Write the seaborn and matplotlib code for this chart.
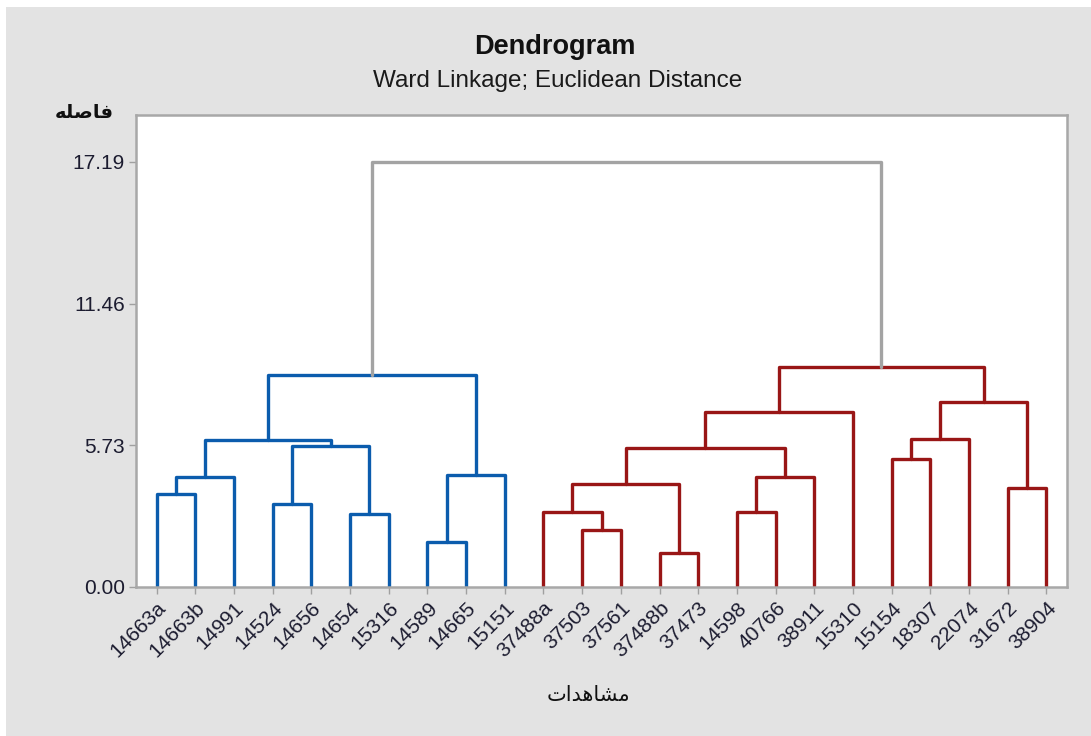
import matplotlib.pyplot as plt
import numpy as np
import pandas as pd
import seaborn as sns
from matplotlib.patches import Rectangle

# leaf labels, left to right
leaf_labels = [
    "14663a", "14663b", "14991", "14524", "14656", "14654", "15316", "14589",
    "14665", "15151", "37488a", "37503", "37561", "37488b", "37473", "14598",
    "40766", "38911", "15310", "15154", "18307", "22074", "31672", "38904",
]

# merges (scipy style: ids < 24 are leaves, then new clusters 24, 25, ...)
merge_left = [0, 24, 3, 5, 26, 25, 7, 30, 29, 11, 10, 13, 34, 15, 37, 36, 39, 19, 41, 22, 42, 40, 32]
merge_right = [1, 2, 4, 6, 27, 28, 8, 9, 31, 12, 33, 14, 35, 16, 17, 38, 18, 20, 21, 23, 43, 44, 45]
merge_height = [3.75, 4.46, 3.35, 2.95, 5.72, 5.95, 1.83, 4.53, 8.58,
                2.31, 3.02, 1.36, 4.15, 3.02, 4.46, 5.64, 7.09, 5.18, 5.97,
                3.99, 7.47, 8.91, 17.19]

y_ticks = [0.0, 5.73, 11.46, 17.19]

title = "Dendrogram"
subtitle = "Ward Linkage; Euclidean Distance"
# Arabic in presentation forms, visual order (matplotlib does no shaping)
y_label = "\uFEEA\uFEE0\uFEBB\uFE8E\uFED3"            # فاصله
x_label = "\uFE95\uFE8D\uFEAA\uFEEB\uFE8E\uFEB8\uFEE3"  # مشاهدات

n_leaves = len(leaf_labels)
node_x = {i: float(i) for i in range(n_leaves)}
node_h = {i: 0.0 for i in range(n_leaves)}
rows = []
for k, (a, b, h) in enumerate(zip(merge_left, merge_right, merge_height)):
    node = n_leaves + k
    node_x[node] = (node_x[a] + node_x[b]) / 2
    node_h[node] = h
    pts = [(node_x[a], node_h[a]), (node_x[a], h), (node_x[b], h), (node_x[b], node_h[b])]
    for j, (px, py) in enumerate(pts):
        rows.append({"link": node, "order": j, "x": px, "y": py})
links = pd.DataFrame(rows)

# colour each link by the top-level branch it belongs to
root = n_leaves + len(merge_height) - 1
children = {n_leaves + k: (a, b) for k, (a, b) in enumerate(zip(merge_left, merge_right))}
group = {root: "root"}


def tag(node, name):
    if node < n_leaves:
        return
    group[node] = name
    for c in children[node]:
        tag(c, name)


tag(children[root][0], "left")
tag(children[root][1], "right")
links["group"] = links["link"].map(group)

sns.set_style("white")
plt.rcParams["font.family"] = ["Liberation Sans", "DejaVu Sans"]

fig = plt.figure(figsize=(10.91, 7.36), dpi=100, facecolor="white")
fig.patches.append(Rectangle((6 / 1091, 0), 1, 1 - 7 / 736, transform=fig.transFigure,
                             facecolor="#e3e3e3", edgecolor="none", zorder=-1))
ax = fig.add_axes([136 / 1091, 1 - 587 / 736, (1067 - 136) / 1091, (587 - 115) / 736])
ax.set_facecolor("white")

palette = {"left": "#0b5cad", "right": "#991616", "root": "#a3a3a3"}
sns.lineplot(data=links, x="x", y="y", units="link", hue="group", palette=palette,
             estimator=None, sort=False, linewidth=2.4, legend=False, ax=ax)

ax.set_xlim(-0.53, n_leaves - 1 + 0.53)
ax.set_ylim(0, 19.09)
ax.set_xticks(range(n_leaves))
ax.set_xticklabels(leaf_labels, rotation=45, ha="right", rotation_mode="anchor",
                   fontsize=15, color="#1c1c30")
ax.set_yticks(y_ticks)
ax.set_yticklabels([f"{v:.2f}" for v in y_ticks], fontsize=15, color="#1c1c30")
ax.tick_params(axis="both", length=5, width=1, color="#a0a0a0", direction="out", pad=3)
ax.tick_params(axis="both", bottom=True, left=True)
ax.set_xlabel("")
ax.set_ylabel("")
for spine in ax.spines.values():
    spine.set_color("#a8a8a8")
    spine.set_linewidth(1.8)

fig.text(555 / 1091, 1 - 47 / 736, title, ha="center", va="center",
         fontsize=19.5, fontweight="bold", color="#111111")
fig.text(558 / 1091, 1 - 81 / 736, subtitle, ha="center", va="center",
         fontsize=17.5, color="#1a1a1a")
fig.text(84 / 1091, 1 - 113 / 736, y_label, ha="center", va="center",
         fontsize=14, fontweight="bold", family=["DejaVu Sans"], color="#111111")
fig.text(588 / 1091, 1 - 695 / 736, x_label, ha="center", va="center",
         fontsize=15, family=["DejaVu Sans"], color="#111111")

fig.savefig("out.png", dpi=100, facecolor=fig.get_facecolor())
